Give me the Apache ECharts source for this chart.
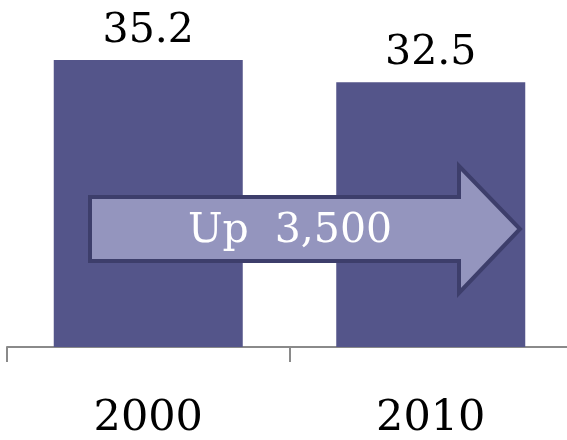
<!DOCTYPE html>
<html>
<head>
<meta charset="utf-8">
<script src="https://cdn.jsdelivr.net/npm/echarts@6/dist/echarts.min.js"></script>
<style>
html,body{margin:0;padding:0;background:#fff;}
#c{width:567px;height:440px;}
</style>
</head>
<body>
<div id="c"></div>
<script>
var categories = ['2000', '2010'];
var values = [35.2, 32.5];
var arrowText = 'Up  3,500';

var FONT = 'DejaVu Serif';
var chart = echarts.init(document.getElementById('c'), null, {renderer: 'canvas'});
chart.setOption({
  animation: false,
  backgroundColor: '#ffffff',
  grid: {left: 7, width: 565, top: 21, bottom: 93, containLabel: false, outerBoundsMode: 'none'},
  xAxis: {
    type: 'category',
    data: categories,
    axisLine: {show: true, lineStyle: {color: '#8a8a8a', width: 2}},
    axisTick: {show: true, length: 15, lineStyle: {color: '#8a8a8a', width: 2}},
    axisLabel: {margin: 50, color: '#000', fontFamily: FONT, fontSize: 43}
  },
  yAxis: {
    type: 'value', min: 0, max: 40, show: false,
    splitLine: {show: false}
  },
  series: [{
    type: 'bar',
    data: values,
    barWidth: 189,
    itemStyle: {color: '#54558a'},
    label: {
      show: true, position: 'top', distance: 8,
      color: '#000', fontFamily: FONT, fontSize: 41,
      formatter: function (p) { return p.value.toFixed(1); }
    }
  }],
  graphic: [{
    type: 'polygon',
    shape: {points: [[90,197],[459,197],[459,166],[520,229],[459,293],[459,261],[90,261]]},
    style: {fill: '#9495be', stroke: '#3d3e6b', lineWidth: 4, lineJoin: 'miter'},
    z: 100
  }, {
    type: 'text',
    x: 290, y: 231,
    style: {text: arrowText, fill: '#ffffff', font: '41px "DejaVu Serif"', textAlign: 'center', textVerticalAlign: 'middle'},
    z: 101
  }]
});
</script>
</body>
</html>
